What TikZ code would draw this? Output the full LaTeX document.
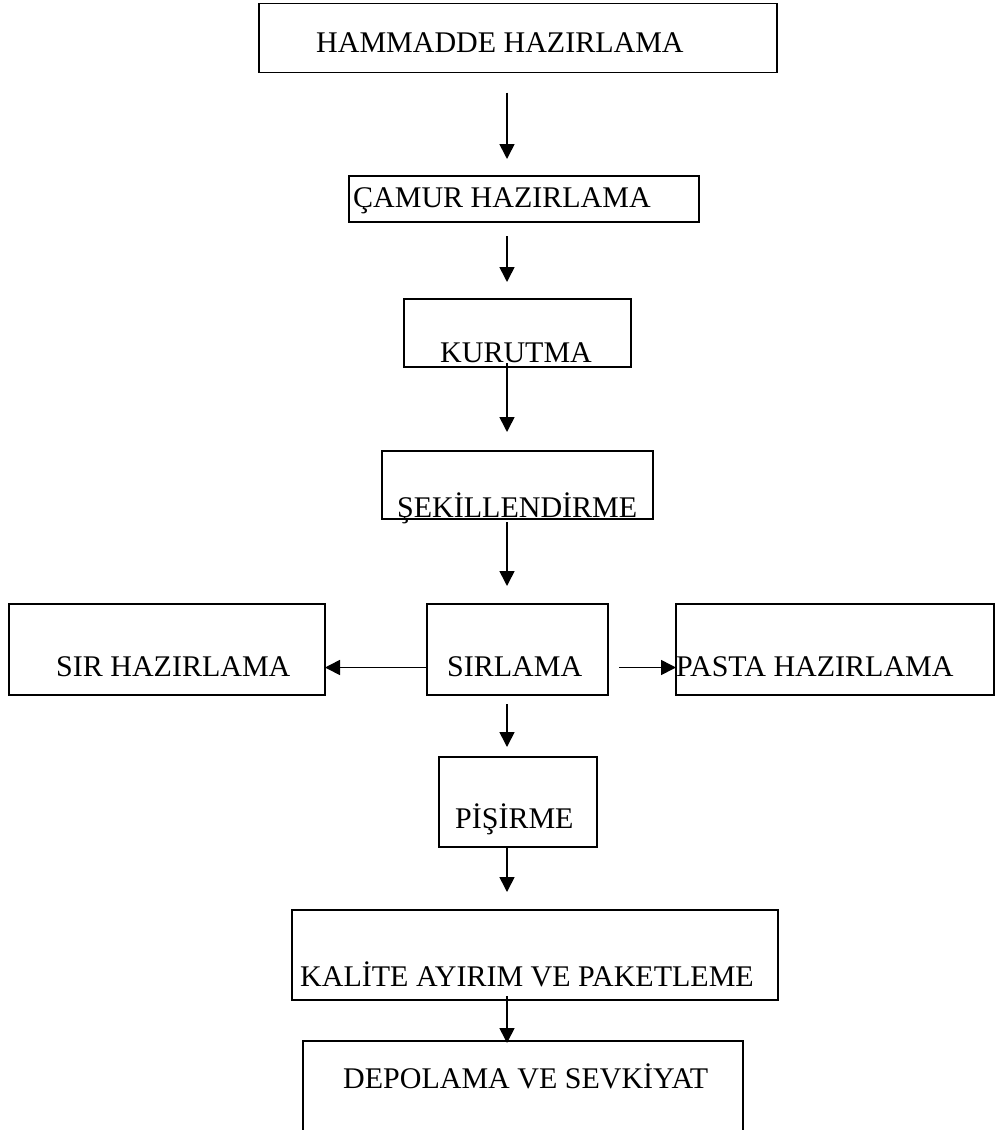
\documentclass[tikz,border=0pt]{standalone}
\usepackage{fontspec}
\setmainfont{Liberation Serif}
\usetikzlibrary{arrows.meta}

\begin{document}
\begin{tikzpicture}[x=1pt, y=-1pt,
  box/.style={rectangle, draw, line width=1.8pt, inner sep=0pt, outer sep=0pt},
  lbl/.style={inner sep=0pt, anchor=base west, font=\fontsize{30pt}{36pt}\selectfont},
  flow/.style={line width=1.6pt, -{Triangle[width=15pt,length=15pt]}}]
\useasboundingbox (0,0) rectangle (995,1130);

\node [box, minimum width=518, minimum height=69] (hammadde) at (518,38) {};
\node [box, minimum width=350, minimum height=46] (camur) at (524,199) {};
\node [box, minimum width=227, minimum height=68] (kurutma) at (517.5,333) {};
\node [box, minimum width=271, minimum height=68] (sekil) at (517.5,485) {};
\node [box, minimum width=316, minimum height=91] (sir) at (167,649.5) {};
\node [box, minimum width=181, minimum height=91] (sirlama) at (517.5,649.5) {};
\node [box, minimum width=318, minimum height=91] (pasta) at (835,649.5) {};
\node [box, minimum width=158, minimum height=90] (pisirme) at (518,802) {};
\node [box, minimum width=486, minimum height=90] (kalite) at (535,955) {};
\node [box, minimum width=440, minimum height=110] (depolama) at (523,1096) {};

\node [lbl] (hammadde-t) at (316,52) {HAMMADDE HAZIRLAMA};
\node [lbl] (camur-t) at (353,207) {ÇAMUR HAZIRLAMA};
\node [lbl] (kurutma-t) at (440,362) {KURUTMA};
\node [lbl] (sekil-t) at (397,517) {ŞEKİLLENDİRME};
\node [lbl] (sir-t) at (56,676) {SIR HAZIRLAMA};
\node [lbl] (sirlama-t) at (447,676) {SIRLAMA};
\node [lbl] (pasta-t) at (676,676) {PASTA HAZIRLAMA};
\node [lbl] (pisirme-t) at (455,828) {PİŞİRME};
\node [lbl] (kalite-t) at (300,986) {KALİTE AYIRIM VE PAKETLEME};
\node [lbl] (depolama-t) at (343,1088) {DEPOLAMA VE SEVKİYAT};

\coordinate (axis) at (507,0);
\draw [flow, shorten <=20, shorten >=17] (axis |- hammadde.south) -- (axis |- camur.north);
\draw [flow, shorten <=14, shorten >=17] (axis |- camur.south) -- (axis |- kurutma.north);
\draw [flow, shorten <=-4, shorten >=19] (axis |- kurutma.south) -- (axis |- sekil.north);
\draw [flow, shorten <=3, shorten >=18] (axis |- sekil.south) -- (axis |- sirlama.north);
\draw [flow, shorten <=9, shorten >=10] (axis |- sirlama.south) -- (axis |- pisirme.north);
\draw [flow, shorten >=18] (axis |- pisirme.south) -- (axis |- kalite.north);
\draw [flow, shorten <=-4, shorten >=-2] (axis |- kalite.south) -- (axis |- depolama.north);
\draw [flow] ([yshift=-18]sirlama.west) -- ([yshift=-18]sir.east);
\draw [flow, shorten <=11] ([yshift=-18]sirlama.east) -- ([yshift=-18]pasta.west);

\end{tikzpicture}
\end{document}
